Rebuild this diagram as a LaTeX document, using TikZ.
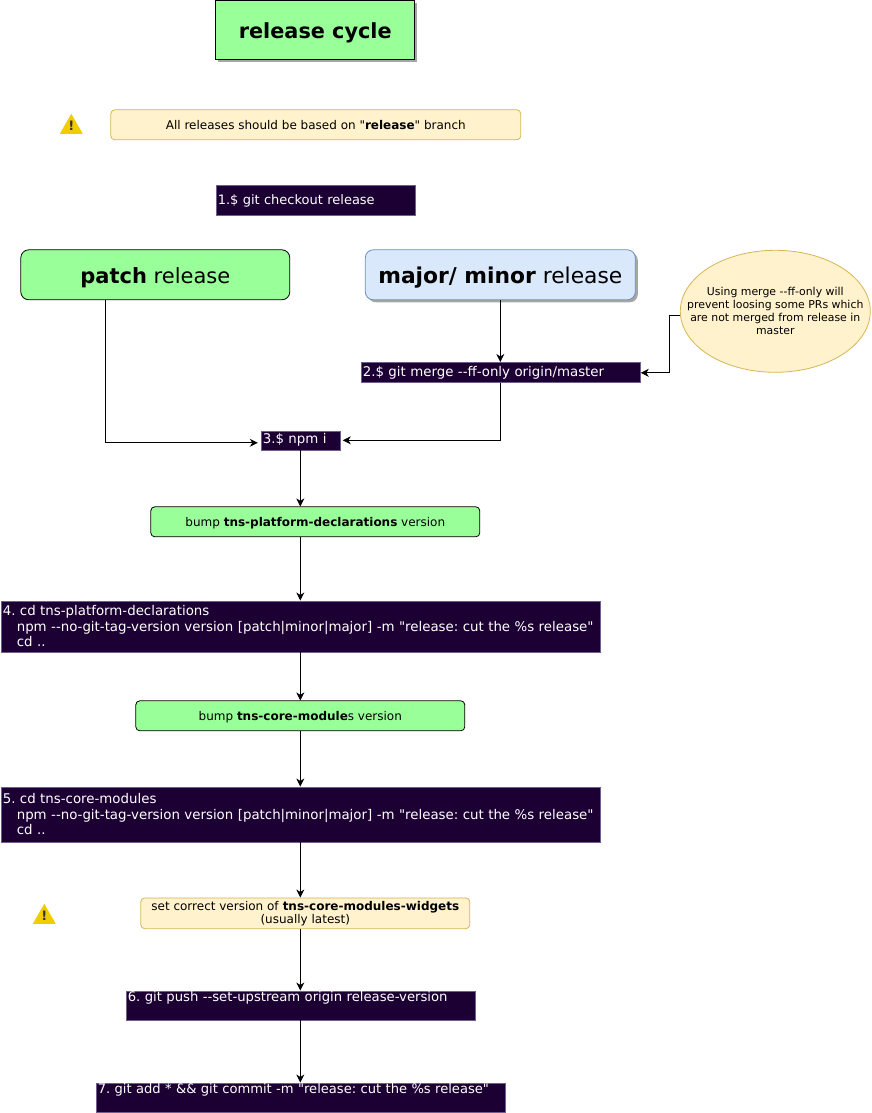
\documentclass[tikz,border=0pt]{standalone}
\usepackage{fontspec}
\setmainfont{DejaVu Sans}[Ligatures=TeXOff]
\usetikzlibrary{arrows.meta,shadows,calc,shapes.geometric}
\definecolor{grn}{HTML}{99FF99}
\definecolor{yel}{HTML}{FFF2CC}
\definecolor{yelb}{HTML}{D6B656}
\definecolor{blu}{HTML}{DAE8FC}
\definecolor{blub}{HTML}{6C8EBF}
\definecolor{drk}{HTML}{1C0033}
\definecolor{drkb}{HTML}{6F5F8F}
\definecolor{wrn}{HTML}{F0CC00}
\newcommand{\dsz}{\fontsize{13.35}{15.5}\selectfont}
\newcommand{\nsz}{\fontsize{12}{15}\selectfont}
\newcommand{\ind}{\hspace*{14pt}}
\newcommand{\dd}{-{}-}
\newcommand{\shifty}[2]{\raisebox{#1}[\height][\depth]{#2}}
\tikzset{
  x=1pt,y=-1pt,
  conn/.style={draw=black,line width=0.8pt,-{Stealth[length=8pt,width=8pt,inset=2.5pt]}},
  dropgray/.style={drop shadow={shadow xshift=2.5pt,shadow yshift=-2.5pt,fill=black!35,opacity=1}},
  box/.style={draw,line width=0.8pt,inner sep=2pt,align=center,text=black},
  greenbox/.style={box,fill=grn,draw=black,rounded corners=4pt,font=\nsz},
  notebox/.style={box,fill=yel,draw=yelb,rounded corners=4pt,font=\nsz},
  darkbox/.style={draw=drkb,line width=0.6pt,fill=drk,text=white,inner sep=0pt,align=left,font=\dsz,anchor=center},
  bigbox/.style={box,rounded corners=8pt,font=\fontsize{21}{24}\selectfont},
  warnmark/.style={inner sep=0pt,font=\bfseries\fontsize{13}{13}\selectfont,text=black!80},
}
\begin{document}
\frenchspacing
\begin{tikzpicture}
\useasboundingbox (0.2,0.2) rectangle (871.2,1113.2);
% title
\node[box,fill=grn,dropgray,minimum width=199pt,minimum height=59pt,font=\bfseries\fontsize{20.8}{24}\selectfont] (title) at (315.5,30.5) {\shifty{-2.5pt}{release cycle}};
% note
\node[notebox,minimum width=410pt,minimum height=30pt] (note1) at (316,125) {\shifty{-0.5pt}{All releases should be based on "\textbf{release}" branch}};
% warnings
\fill[wrn,rounded corners=0.5pt] (60,134) -- (71.5,114) -- (83,134) -- cycle;
\node[warnmark] (w1) at (71.5,125.5) {!};
\fill[wrn,rounded corners=0.5pt] (33,924) -- (44.5,904) -- (56,924) -- cycle;
\node[warnmark] (w2) at (44.5,915.5) {!};
% dark step boxes
\node[darkbox,minimum width=199pt,minimum height=30pt,text width=195pt,font=\fontsize{13}{15.5}\selectfont] (s1) at (315.5,200) {\shifty{-1.5pt}{1.\$ git checkout release}};
\node[bigbox,fill=grn,draw=black,minimum width=269pt,minimum height=50pt] (patch) at (155.5,275) {\shifty{-2.5pt}{\textbf{patch} release}};
\node[bigbox,fill=blu,draw=blub,dropgray,minimum width=270pt,minimum height=50pt,font=\fontsize{21.8}{24}\selectfont] (major) at (500.5,275) {\shifty{-2.5pt}{\textbf{major/ minor} release}};
\node[draw=yelb,fill=yel,line width=0.8pt,ellipse,minimum width=190pt,minimum height=122pt,inner xsep=-25pt,inner ysep=10pt,align=center,font=\fontsize{10.9}{13}\selectfont] (ell) at (775.5,311.5) {Using merge \dd ff-only will\\prevent loosing some PRs which\\are not merged from release in\\master};
\node[darkbox,minimum width=279pt,minimum height=20pt,text width=275pt] (s2) at (500.5,372.5) {\shifty{-0.5pt}{2.\$ git merge \dd ff-only origin/master}};
\node[darkbox,minimum width=79pt,minimum height=19pt,text width=75pt] (s3) at (300.5,440.5) {\shifty{0.5pt}{3.\$ npm i}};
\node[greenbox,minimum width=329pt,minimum height=30pt] (b1) at (315.5,522) {\shifty{-1pt}{bump \textbf{tns-platform-declarations} version}};
\node[darkbox,minimum width=599pt,minimum height=51pt,text width=595pt] (s4) at (300.5,626.5) {4. cd tns-platform-declarations\\\ind npm \dd no-git-tag-version version {[}patch|minor|major{]} -m "release: cut the \%s release"\\\ind cd ..};
\node[greenbox,minimum width=329pt,minimum height=30pt] (b2) at (300.5,716) {\shifty{-1.2pt}{bump \textbf{tns-core-module}s version}};
\node[darkbox,minimum width=599pt,minimum height=55pt,text width=595pt] (s5) at (300.5,814.5) {5. cd tns-core-modules\\\ind npm \dd no-git-tag-version version {[}patch|minor|major{]} -m "release: cut the \%s release"\\\ind cd ..};
\node[notebox,minimum width=329pt,minimum height=30pt,font=\fontsize{12}{14}\selectfont] (note2) at (305.5,913.5) {\shifty{-0.8pt}{\begin{tabular}{@{}c@{}}set correct version of \textbf{tns-core-modules-widgets}\\[-1.2pt](usually latest)\end{tabular}}};
\node[darkbox,minimum width=349pt,minimum height=29pt,text width=345pt,font=\fontsize{13.2}{15.5}\selectfont] (s6) at (300.5,1005.5) {\shifty{7pt}{6. git push \dd set-upstream origin release-version}};
\node[darkbox,minimum width=409pt,minimum height=29pt,text width=405pt,font=\fontsize{13.1}{15.5}\selectfont] (s7) at (300.5,1097.5) {\shifty{7.5pt}{7. git add * \&\& git commit -m "release: cut the \%s release"}};
% free-end coordinates
\coordinate (patchout) at (106,300);
\coordinate (s3inL) at (258,443);
\coordinate (s3inR) at (343,440.5);
\coordinate (ellout) at (680,316);
\coordinate (s2in) at (641,373);
% connectors
\draw[conn] (patchout) |- (s3inL);
\draw[conn] (major.south) -- (s2.north);
\draw[conn] (s2.south) |- (s3inR);
\draw[conn] (ellout) -- ++(-10,0) |- (s2in);
\draw[conn] (s3.south) -- (s3.south |- b1.north);
\draw[conn] (s3.south |- b1.south) -- (s4.north);
\draw[conn] (s4.south) -- (b2.north);
\draw[conn] (b2.south) -- (s5.north);
\draw[conn] (s5.south) -- (s5.south |- note2.north);
\draw[conn] (s5.south |- note2.south) -- (s6.north);
\draw[conn] (s6.south) -- (s7.north);
\end{tikzpicture}
\end{document}
